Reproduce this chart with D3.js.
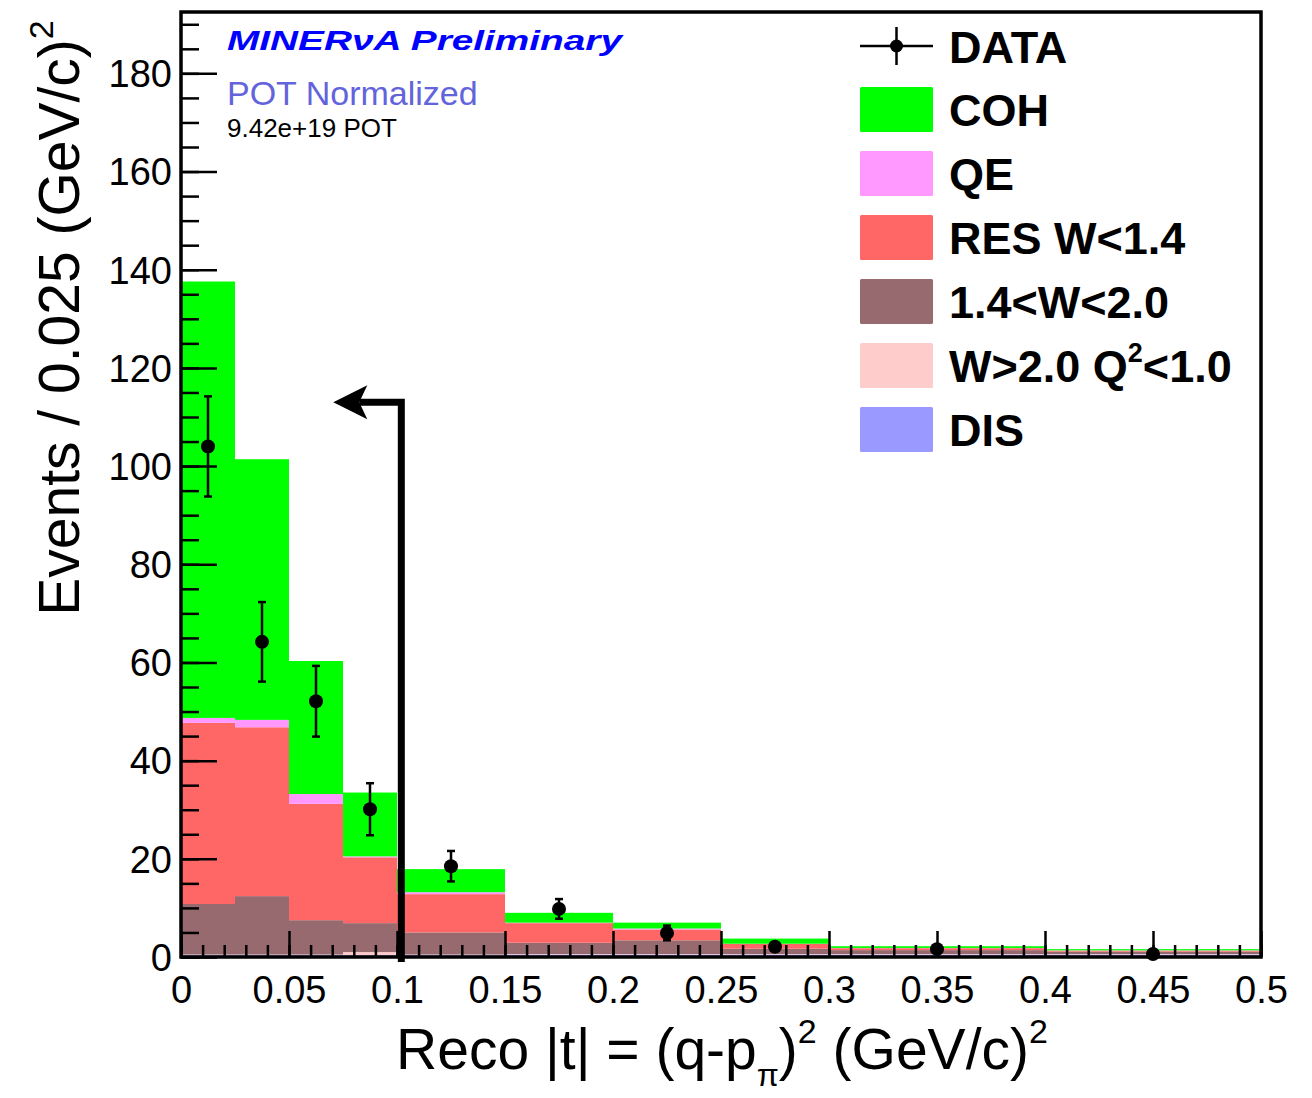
<!DOCTYPE html>
<html>
<head>
<meta charset="utf-8">
<script src="https://cdn.jsdelivr.net/npm/d3@7"></script>
<style>
  body { margin: 0; background: #fff; }
  text { font-family: "Liberation Sans", Arial, Helvetica, sans-serif; }
</style>
</head>
<body>
<svg id="chart" width="1312" height="1098"></svg>
<script>
// bin edges in |t| (GeV/c)^2
const binEdges = [0, 0.025, 0.05, 0.075, 0.1, 0.15, 0.2, 0.25, 0.3, 0.4, 0.5];

// MC components per bin (Events / 0.025), bottom of stack first
const dis = [0.4, 0.4, 0.4, 0.4, 0.4, 0.5, 0.5, 0.5, 0.5, 0.5];
const highW = [0.1, 0.1, 0.1, 0.6, 0.1, 0.1, 0.1, 0.1, 0.1, 0.1];
const midW = [10.3, 11.9, 7.0, 5.9, 4.5, 2.3, 2.8, 1.1, 0.8, 0.5];
const res = [36.9, 34.4, 23.7, 13.4, 7.8, 4.0, 2.2, 0.95, 0.4, 0.2];
const qe = [1.0, 1.5, 2.0, 0.2, 0.4, 0.1, 0.2, 0.05, 0.05, 0.05];
const coh = [88.9, 53.1, 27.1, 13.0, 4.7, 2.0, 1.2, 1.05, 0.35, 0.25];

// data points
const dataX = [0.0125, 0.0375, 0.0625, 0.0875, 0.125, 0.175, 0.225, 0.275, 0.35, 0.45];
const dataY = [104.0, 64.2, 52.1, 30.1, 18.5, 9.8, 4.9, 2.1, 1.6, 0.6];
const dataErr = [10.2, 8.1, 7.2, 5.3, 3.1, 2.0, 1.5, 0.8, 0.5, 0.3];

// cut arrow: at |t| = 0.1, pointing to lower |t|
const arrowX = 0.102;
const arrowTopY = 113;
const arrowTipX = 0.0705;

const seriesNames = ["DIS", "W>2.0 Q2<1.0", "1.4<W<2.0", "RES W<1.4", "QE", "COH"];
const seriesColors = ["#9999ff", "#ffcccc", "#966a6e", "#ff6666", "#ff99ff", "#00ff00"];

const xMajorTicks = [0, 0.05, 0.1, 0.15, 0.2, 0.25, 0.3, 0.35, 0.4, 0.45, 0.5];
const yMajorTicks = [0, 20, 40, 60, 80, 100, 120, 140, 160, 180];

const svg = d3.select("#chart");
const W = 1312, H = 1098;
svg.append("rect").attr("width", W).attr("height", H).attr("fill", "#fff");

const plot = { left: 181, right: 1261, top: 12, bottom: 957 };
const x = d3.scaleLinear().domain([0, 0.5]).range([plot.left, plot.right]);
const y = d3.scaleLinear().domain([0, 192.5]).range([plot.bottom, plot.top]);

// stacked histogram
const bins = binEdges.slice(0, -1).map((lo, i) => ({
  lo, hi: binEdges[i + 1],
  s0: dis[i], s1: highW[i], s2: midW[i], s3: res[i], s4: qe[i], s5: coh[i]
}));
const stack = d3.stack().keys(["s0", "s1", "s2", "s3", "s4", "s5"]);
const layers = stack(bins);

const hist = svg.append("g").attr("class", "stack");
layers.forEach((layer, k) => {
  hist.append("g")
    .attr("fill", seriesColors[k])
    .selectAll("rect")
    .data(layer)
    .join("rect")
    .attr("x", d => x(d.data.lo))
    .attr("width", d => x(d.data.hi) - x(d.data.lo))
    .attr("y", d => y(d[1]))
    .attr("height", d => y(d[0]) - y(d[1]));
});

// axes: ticks drawn inside the frame, ROOT style
const xMinor = d3.range(0, 0.5001, 0.01);
const yMinor = d3.range(0, 192, 5);

const axes = svg.append("g").attr("class", "axes");
axes.append("g")
  .attr("transform", `translate(0,${plot.bottom})`)
  .call(d3.axisBottom(x).tickValues(xMinor).tickSize(-12).tickFormat(""))
  .call(g => g.select(".domain").remove());
axes.append("g")
  .attr("transform", `translate(0,${plot.bottom})`)
  .call(d3.axisBottom(x).tickValues(xMajorTicks).tickSize(-26).tickPadding(14)
    .tickFormat(d => d === 0 ? "0" : String(+d.toFixed(2))))
  .call(g => g.select(".domain").remove())
  .call(g => g.selectAll("text").attr("font-size", 38).attr("fill", "#000").attr("dy", "0.85em"));

axes.append("g")
  .attr("transform", `translate(${plot.left},0)`)
  .call(d3.axisLeft(y).tickValues(yMinor).tickSize(-18).tickFormat(""))
  .call(g => g.select(".domain").remove());
axes.append("g")
  .attr("transform", `translate(${plot.left},0)`)
  .call(d3.axisLeft(y).tickValues(yMajorTicks).tickSize(-36).tickPadding(9))
  .call(g => g.select(".domain").remove())
  .call(g => g.selectAll("text").attr("font-size", 38).attr("fill", "#000").attr("dy", "0.35em"));

axes.selectAll("line").attr("stroke", "#000").attr("stroke-width", 2.5);

// frame
svg.append("rect")
  .attr("x", plot.left).attr("y", plot.top)
  .attr("width", plot.right - plot.left).attr("height", plot.bottom - plot.top)
  .attr("fill", "none").attr("stroke", "#000").attr("stroke-width", 3.5);

// data points with error bars
const pts = svg.append("g").attr("class", "data").attr("stroke", "#000").attr("stroke-width", 2.5);
dataX.forEach((dx, i) => {
  const cx = x(dx), lo = y(dataY[i] - dataErr[i]), hi = y(dataY[i] + dataErr[i]);
  pts.append("line").attr("x1", cx).attr("x2", cx).attr("y1", lo).attr("y2", hi);
  pts.append("line").attr("x1", cx - 4).attr("x2", cx + 4).attr("y1", lo).attr("y2", lo);
  pts.append("line").attr("x1", cx - 4).attr("x2", cx + 4).attr("y1", hi).attr("y2", hi);
  pts.append("circle").attr("cx", cx).attr("cy", y(dataY[i])).attr("r", 7)
    .attr("fill", "#000").attr("stroke", "none");
});

// cut arrow
const ax = x(arrowX), ay = y(arrowTopY), tip = x(arrowTipX);
svg.append("path")
  .attr("d", `M${ax},${y(-1)} L${ax},${ay} L${tip + 26},${ay}`)
  .attr("fill", "none").attr("stroke", "#000").attr("stroke-width", 7)
  .attr("stroke-linejoin", "miter");
svg.append("path")
  .attr("d", `M${tip},${ay} L${tip + 34},${ay - 17} L${tip + 26},${ay} L${tip + 34},${ay + 17} Z`)
  .attr("fill", "#000");

// labels
svg.append("text")
  .attr("x", 227).attr("y", 50)
  .attr("font-family", "'Liberation Mono', 'Courier New', monospace")
  .attr("font-weight", "bold").attr("font-style", "italic")
  .attr("font-size", 28).attr("fill", "#0000ff")
  .attr("textLength", 395).attr("lengthAdjust", "spacingAndGlyphs")
  .text("MINERνA Preliminary");
svg.append("text")
  .attr("x", 227).attr("y", 105)
  .attr("font-size", 34).attr("fill", "#6363dc")
  .text("POT Normalized");
svg.append("text")
  .attr("x", 227).attr("y", 137)
  .attr("font-size", 26).attr("fill", "#000")
  .text("9.42e+19 POT");

// axis titles
const xt = svg.append("text")
  .attr("x", 722).attr("y", 1069)
  .attr("text-anchor", "middle").attr("font-size", 57).attr("fill", "#000");
xt.append("tspan").text("Reco |t| = (q-p");
xt.append("tspan").attr("font-size", 32).attr("dy", 17).text("π");
xt.append("tspan").attr("dy", -17).text(")");
xt.append("tspan").attr("font-size", 34).attr("dy", -26).text("2");
xt.append("tspan").attr("dy", 26).text(" (GeV/c)");
xt.append("tspan").attr("font-size", 34).attr("dy", -26).text("2");

const yt = svg.append("text")
  .attr("transform", "translate(79,318) rotate(-90)")
  .attr("text-anchor", "middle").attr("font-size", 57).attr("fill", "#000");
yt.append("tspan").text("Events / 0.025 (GeV/c)");
yt.append("tspan").attr("font-size", 34).attr("dy", -26).text("2");

// legend
const legend = svg.append("g").attr("class", "legend");
const legX = 860, legW = 73, legH = 45, labelX = 949;
const dataRowY = 46;
legend.append("line").attr("x1", legX).attr("x2", legX + legW)
  .attr("y1", dataRowY).attr("y2", dataRowY).attr("stroke", "#000").attr("stroke-width", 2.5);
legend.append("line").attr("x1", legX + legW / 2).attr("x2", legX + legW / 2)
  .attr("y1", dataRowY - 19).attr("y2", dataRowY + 19).attr("stroke", "#000").attr("stroke-width", 2.5);
legend.append("circle").attr("cx", legX + legW / 2).attr("cy", dataRowY).attr("r", 6.5).attr("fill", "#000");
legend.append("text").attr("x", labelX).attr("y", dataRowY + 17)
  .attr("font-size", 45).attr("font-weight", "bold").text("DATA");

const legOrder = [5, 4, 3, 2, 1, 0];
legOrder.forEach((k, r) => {
  const cy = 109.5 + r * 64;
  legend.append("rect").attr("x", legX).attr("y", cy - legH / 2)
    .attr("width", legW).attr("height", legH).attr("rx", 1.5).attr("fill", seriesColors[k]);
  const t = legend.append("text").attr("x", labelX).attr("y", cy + 16.5)
    .attr("font-size", 45).attr("font-weight", "bold");
  if (seriesNames[k] === "W>2.0 Q2<1.0") {
    t.append("tspan").text("W>2.0 Q");
    t.append("tspan").attr("font-size", 27).attr("dy", -20).text("2");
    t.append("tspan").attr("dy", 20).text("<1.0");
  } else {
    t.text(seriesNames[k]);
  }
});
</script>
</body>
</html>
